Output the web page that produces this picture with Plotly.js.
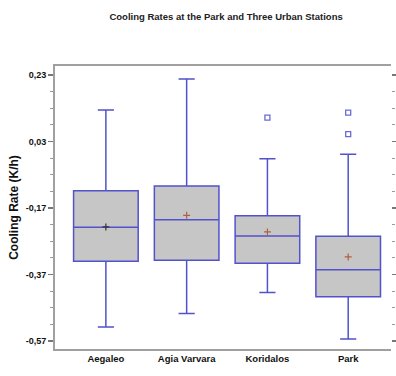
<!DOCTYPE html>
<html>
<head>
<meta charset="utf-8">
<script src="https://cdn.plot.ly/plotly-3.0.1.min.js"></script>
<style>html,body{margin:0;padding:0;background:#fff;}#chart{width:396px;height:376px;}</style>
</head>
<body>
<div id="chart"></div>
<script>
// Data
var stations = ['Aegaleo', 'Agia Varvara', 'Koridalos', 'Park'];
var lowerWhisker = [-0.528, -0.487, -0.424, -0.564];
var q1Values = [-0.330, -0.327, -0.336, -0.437];
var medianValues = [-0.228, -0.205, -0.254, -0.356];
var q3Values = [-0.118, -0.104, -0.193, -0.255];
var upperWhisker = [0.125, 0.218, -0.022, -0.008];
var meanValues = [-0.227, -0.192, -0.242, -0.317];
var outlierStations = ['Koridalos', 'Park', 'Park'];
var outlierValues = [0.102, 0.117, 0.052];
var yTickVals = [0.23, 0.03, -0.17, -0.37, -0.57];
var yTickText = ['0,23', '0,03', '-0,17', '-0,37', '-0,57'];

var sans = 'Liberation Sans, Arial, sans-serif';
var boxLine = '#5252cc';

var traces = [
  {
    type: 'box',
    x: stations,
    q1: q1Values,
    median: medianValues,
    q3: q3Values,
    lowerfence: lowerWhisker,
    upperfence: upperWhisker,
    width: 0.8,
    whiskerwidth: 0.25,
    fillcolor: '#c6c6c6',
    line: {color: boxLine, width: 1.5},
    boxpoints: false,
    showlegend: false,
    hoverinfo: 'skip'
  },
  {
    type: 'scatter',
    mode: 'markers',
    x: stations,
    y: meanValues,
    marker: {symbol: 'cross-thin', size: 5, color: ['#333333', '#b06040', '#b06040', '#b06040'], line: {width: 1.2, color: ['#333333', '#b06040', '#b06040', '#b06040']}},
    showlegend: false,
    hoverinfo: 'skip'
  },
  {
    type: 'scatter',
    mode: 'markers',
    x: outlierStations,
    y: outlierValues,
    marker: {symbol: 'square-open', size: 5, color: '#6a6ad6', line: {width: 1.3}},
    showlegend: false,
    hoverinfo: 'skip'
  },
  {
    type: 'scatter',
    mode: 'markers',
    x: [],
    y: [],
    yaxis: 'y2',
    showlegend: false,
    hoverinfo: 'skip'
  }
];

var yRange = [-0.594, 0.257];

var layout = {
  width: 396,
  height: 376,
  margin: {l: 55, r: 5, t: 66, b: 27},
  paper_bgcolor: '#ffffff',
  plot_bgcolor: '#ffffff',
  title: {
    text: 'Cooling Rates at the Park and Three Urban Stations',
    font: {family: sans, size: 9.5, color: '#222222', weight: 'bold'},
    x: 0.571, xanchor: 'center',
    y: 0.955, yanchor: 'middle'
  },
  xaxis: {
    type: 'category',
    range: [-0.63, 3.53],
    showline: true,
    mirror: true,
    linecolor: '#a0a0a0',
    linewidth: 2,
    ticks: '',
    showgrid: false,
    zeroline: false,
    tickfont: {family: sans, size: 9.5, color: '#111111', weight: 'bold'},
    fixedrange: true
  },
  yaxis: {
    range: yRange,
    tickmode: 'array',
    tickvals: yTickVals,
    ticktext: yTickText,
    ticks: 'outside',
    ticklen: 5,
    tickwidth: 1.5,
    tickcolor: '#777777',
    minor: {tick0: 0.23, dtick: 0.05, ticks: 'outside', ticklen: 3, tickwidth: 1, tickcolor: '#999999', showgrid: false},
    showline: true,
    linecolor: '#a0a0a0',
    linewidth: 2,
    showgrid: false,
    zeroline: false,
    tickfont: {family: sans, size: 9, color: '#111111', weight: 'bold'},
    title: {text: 'Cooling Rate (K/h)', font: {family: sans, size: 12, color: '#111111', weight: 'bold'}, standoff: 4},
    fixedrange: true
  },
  yaxis2: {
    overlaying: 'y',
    side: 'right',
    range: yRange,
    tickmode: 'array',
    tickvals: yTickVals,
    showticklabels: false,
    ticks: 'outside',
    ticklen: 5,
    tickwidth: 1.5,
    tickcolor: '#777777',
    minor: {tick0: 0.23, dtick: 0.05, ticks: 'outside', ticklen: 3, tickwidth: 1, tickcolor: '#999999', showgrid: false},
    showline: false,
    showgrid: false,
    zeroline: false,
    fixedrange: true
  }
};

Plotly.newPlot('chart', traces, layout, {displayModeBar: false, staticPlot: true});
</script>
</body>
</html>
